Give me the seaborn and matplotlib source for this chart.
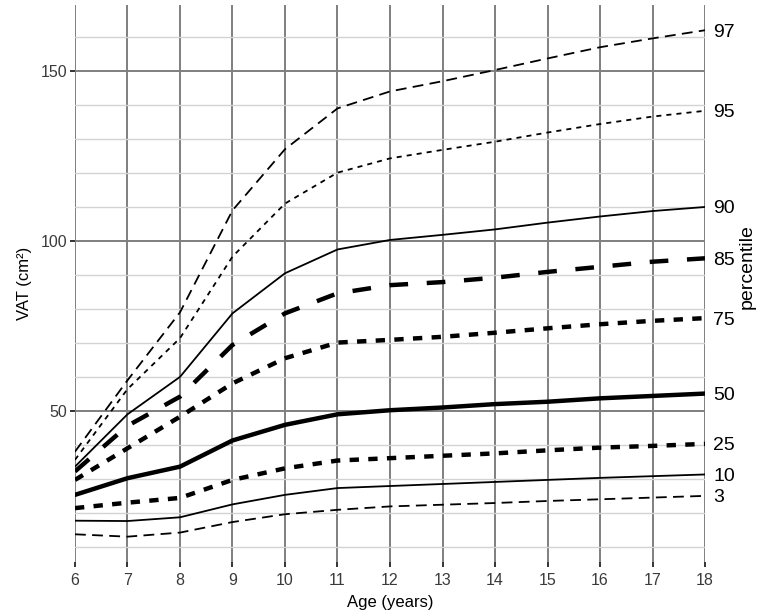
import pandas as pd
import matplotlib
matplotlib.use('Agg')
import matplotlib.pyplot as plt
from matplotlib.ticker import MultipleLocator
import seaborn as sns

# percentile curves of VAT by age
ages = [6, 7, 8, 9, 10, 11, 12, 13, 14, 15, 16, 17, 18]
p97 = [38, 59, 79, 109, 127, 139, 144, 147, 150.3, 153.7, 157, 159.6, 162]
p95 = [35.6, 56.4, 71.4, 95.4, 111, 120.1, 124.3, 126.8, 129.2, 131.9, 134.4, 136.6, 138.3]
p90 = [33.6, 49, 60, 78.7, 90.5, 97.5, 100.3, 101.8, 103.4, 105.4, 107.2, 108.8, 110]
p85 = [32.2, 45.6, 54.2, 69.4, 78.7, 84.6, 87, 87.9, 89.2, 90.9, 92.4, 93.9, 94.9]
p75 = [29.7, 39, 48.3, 58.1, 65.5, 70.1, 70.9, 71.8, 73, 74.3, 75.5, 76.5, 77.3]
p50 = [25.3, 30.2, 33.6, 41.3, 45.9, 49, 50.2, 51, 52, 52.7, 53.7, 54.4, 55.1]
p25 = [21.4, 23, 24.4, 29.7, 33.1, 35.4, 36.1, 36.8, 37.5, 38.4, 39.2, 39.7, 40.3]
p10 = [17.7, 17.6, 18.7, 22.5, 25.3, 27.3, 27.9, 28.5, 29.1, 29.7, 30.3, 30.8, 31.3]
p3 = [13.7, 13, 14.2, 17.3, 19.6, 20.9, 21.9, 22.4, 22.9, 23.5, 24, 24.5, 25]

percentiles = ['97', '95', '90', '85', '75', '50', '25', '10', '3']
curves = [p97, p95, p90, p85, p75, p50, p25, p10, p3]

# long format table for seaborn
rows = []
for pc, vals in zip(percentiles, curves):
    for a, v in zip(ages, vals):
        rows.append({'age': a, 'vat': v, 'percentile': pc})
data = pd.DataFrame(rows)

thin = 1.3
thick = 3.2
sizes = {'97': thin, '95': thin, '90': thin, '85': thick, '75': thick,
         '50': thick, '25': thick, '10': thin, '3': thin}
dashes = {'97': (6, 3.5), '95': (2.8, 2.8), '90': '', '85': (4.2, 4.2),
          '75': (2.1, 2.1), '50': '', '25': (2.1, 2.1), '10': '', '3': (6, 3.5)}

sns.set_theme(style='white')
plt.rcParams['font.family'] = ['Liberation Sans', 'DejaVu Sans']

fig, ax = plt.subplots(figsize=(7.65, 6.15), dpi=100)
fig.subplots_adjust(left=0.098, right=0.9216, bottom=0.0862, top=0.992)

sns.lineplot(data=data, x='age', y='vat', hue='percentile', style='percentile',
             size='percentile', palette=['black'] * 9, dashes=dashes, sizes=sizes,
             hue_order=percentiles, style_order=percentiles, size_order=percentiles,
             legend=False, ax=ax, zorder=3)

ax.set_xlim(6, 18)
ax.xaxis.set_major_locator(MultipleLocator(1))
ax.yaxis.set_major_locator(MultipleLocator(50))
ax.yaxis.set_minor_locator(MultipleLocator(10))
ax.grid(which='minor', axis='y', color='#d3d3d3', linewidth=1.0)
ax.grid(which='major', axis='both', color='#7f7f7f', linewidth=1.4)
ax.set_axisbelow(True)
sns.despine(ax=ax, left=True, bottom=True)

ax.tick_params(which='major', length=3.6, width=1.4, color='#333333',
               labelsize=11.5, labelcolor='#3a3a3a', pad=2, left=True, bottom=True)
ax.tick_params(axis='x', pad=4.5)
ax.tick_params(which='minor', length=0)
ax.set_xlabel('Age (years)', fontsize=12, color='black', labelpad=5)
ax.set_ylabel('VAT (cm²)', fontsize=12, color='black', labelpad=6)

# percentile labels at the end of each curve
ax2 = ax.twinx()
ax2.set_ylim(ax.get_ylim())
ax2.set_yticks([c[-1] for c in curves])
ax2.set_yticklabels(percentiles)
ax2.tick_params(length=0, labelsize=14, labelcolor='black', pad=6)
ax2.grid(False)
sns.despine(ax=ax2, left=True, bottom=True, right=True)
ax2.set_ylabel('percentile', fontsize=14, color='black')
ax2.yaxis.set_label_coords(1.053, 0.53)

fig.savefig('out.png', dpi=100)
